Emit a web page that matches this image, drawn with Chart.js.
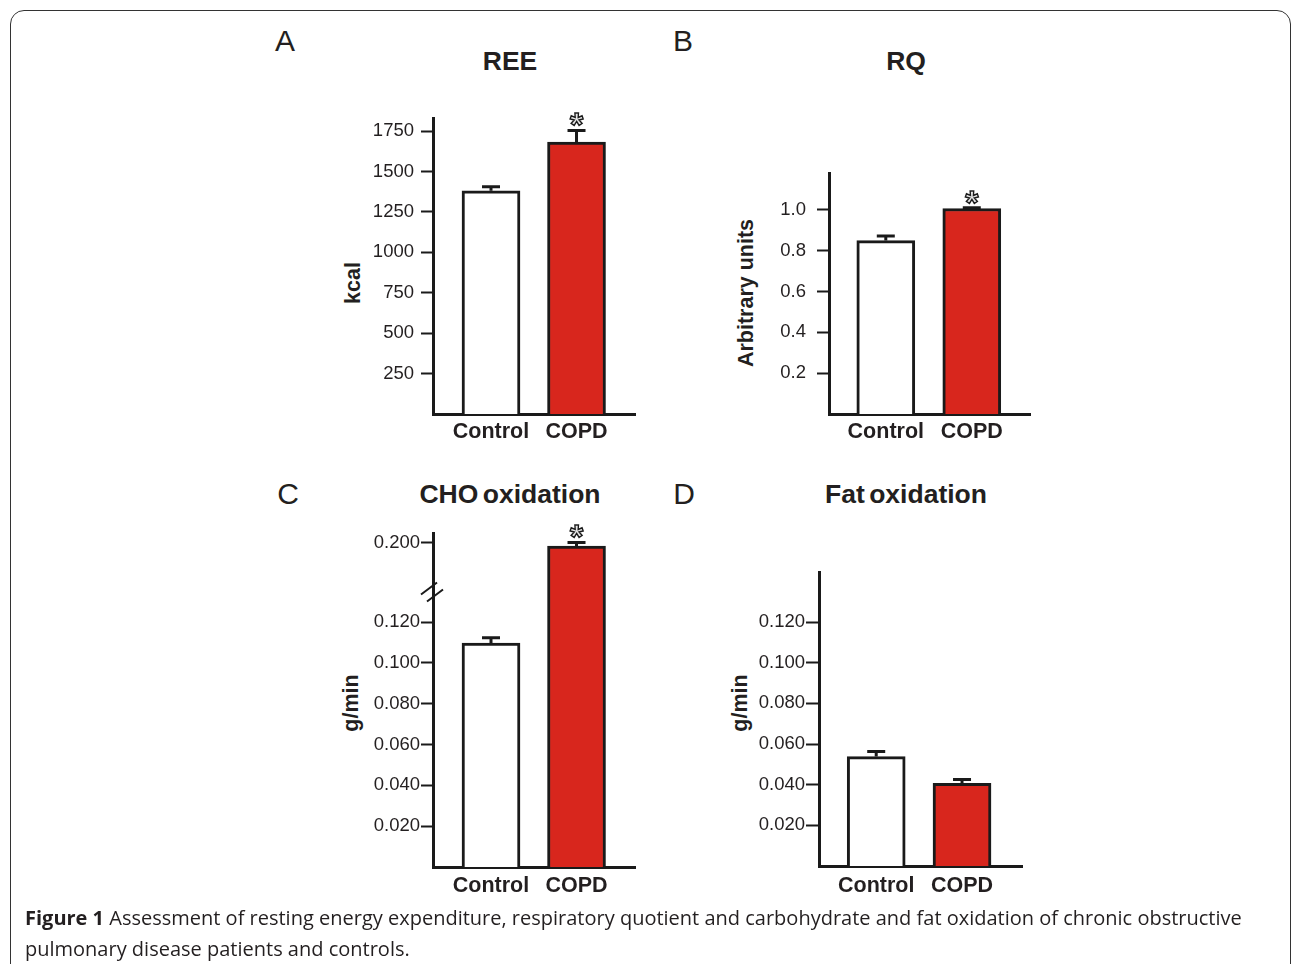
<!DOCTYPE html>
<html><head><meta charset="utf-8">
<script src="https://cdn.jsdelivr.net/npm/chart.js@4.4.0/dist/chart.umd.min.js"></script>
<style>
html,body{margin:0;padding:0;background:#fff;width:1292px;height:964px;overflow:hidden;}
#frame{position:absolute;left:10px;top:10px;width:1281px;height:1000px;border:1.5px solid #333;border-radius:14px;box-sizing:border-box;}
canvas{position:absolute;}
.txt{position:absolute;font-family:"Liberation Sans",Arial,sans-serif;color:#231f20;white-space:nowrap;line-height:1;}
.letter{font-size:30px;transform:translate(-50%,-50%);}
.title{font-size:26.5px;font-weight:bold;transform:translate(-50%,-50%);word-spacing:-3px;}
.ytitle{font-size:21.5px;font-weight:bold;transform:translate(-50%,-50%) rotate(-90deg);}
#caption{position:absolute;left:25px;top:902px;font-family:"Open Sans",sans-serif;font-size:20px;line-height:31px;color:#231f20;white-space:nowrap;}
</style></head>
<body>
<div id="frame"></div>
<div class="txt letter" style="left:285px;top:41px">A</div>
<div class="txt letter" style="left:683px;top:41px">B</div>
<div class="txt letter" style="left:288px;top:494px">C</div>
<div class="txt letter" style="left:684px;top:494px">D</div>
<div class="txt title" style="left:510px;top:61px">REE</div>
<div class="txt title" style="left:906px;top:61px">RQ</div>
<div class="txt title" style="left:510px;top:494px">CHO oxidation</div>
<div class="txt title" style="left:906px;top:494px">Fat oxidation</div>
<div class="txt ytitle" style="left:354px;top:283px">kcal</div>
<div class="txt ytitle" style="left:746.5px;top:293px">Arbitrary units</div>
<div class="txt ytitle" style="left:351.5px;top:703px">g/min</div>
<div class="txt ytitle" style="left:740.5px;top:703px">g/min</div>
<canvas id="cA"></canvas>
<canvas id="cB"></canvas>
<canvas id="cC"></canvas>
<canvas id="cD"></canvas>
<div id="caption"><b>Figure 1</b> Assessment of resting energy expenditure, respiratory quotient and carbohydrate and fat oxidation of chronic obstructive<br>pulmonary disease patients and controls.</div>
<script>
// ---- data ----
const categories = ['Control', 'COPD'];

const reeMeans = [1380, 1682];
const reeErrors = [25, 72];
const reeTicks = [250, 500, 750, 1000, 1250, 1500, 1750];
const reeSignificant = [false, true];

const rqMeans = [0.85, 1.007];
const rqErrors = [0.022, 0.004];
const rqTicks = [0.2, 0.4, 0.6, 0.8, 1.0];
const rqSignificant = [false, true];

const choMeans = [0.1098, 0.1985];
const choErrors = [0.0025, 0.0018];
const choTicks = [0.02, 0.04, 0.06, 0.08, 0.1, 0.12, 0.2];
const choSignificant = [false, true];

const fatMeans = [0.0538, 0.0406];
const fatErrors = [0.0025, 0.002];
const fatTicks = [0.02, 0.04, 0.06, 0.08, 0.1, 0.12];
const fatSignificant = [false, false];

// ---- broken-axis linear scale ----
class BrokenLinearScale extends Chart.LinearScale {
  static id = 'brokenLinear';
  static defaults = {};
  toDisplay(v) {
    const b = this.options.breakAt, g = this.options.breakGap;
    if (b == null || v == null) return v;
    if (v <= b) return v;
    if (v >= b + g) return v - g;
    return b;
  }
  fromDisplay(d) {
    const b = this.options.breakAt, g = this.options.breakGap;
    if (b == null) return d;
    return d <= b ? d : d + g;
  }
  getPixelForValue(v) { return super.getPixelForValue(this.toDisplay(v)); }
  getValueForPixel(p) { return this.fromDisplay(super.getValueForPixel(p)); }
}
Chart.register(BrokenLinearScale);

const INK = '#1a1a1a';
const TXT = '#231f20';
const RED = '#d8261d';

function extrasPlugin(means, errors, sig, brk) {
  return {
    id: 'extras',
    afterDatasetsDraw(chart) {
      const ctx = chart.ctx, ys = chart.scales.y;
      const meta = chart.getDatasetMeta(0);
      ctx.save();
      ctx.strokeStyle = INK; ctx.lineWidth = 3; ctx.lineCap = 'butt';
      meta.data.forEach((bar, i) => {
        const top = ys.getPixelForValue(means[i] + errors[i]);
        ctx.beginPath();
        ctx.moveTo(bar.x, bar.y); ctx.lineTo(bar.x, top);
        ctx.moveTo(bar.x - 9, top); ctx.lineTo(bar.x + 9, top);
        ctx.stroke();
        if (sig[i]) {
          ctx.save();
          ctx.font = 'bold 34px "Liberation Sans"';
          ctx.textAlign = 'center'; ctx.textBaseline = 'alphabetic';
          const cy = top - 13;
          ctx.fillStyle = '#e6e6e6';
          ctx.fillText('*', bar.x, cy + 19);
          ctx.lineWidth = 1.4; ctx.strokeStyle = INK;
          ctx.strokeText('*', bar.x, cy + 19);
          ctx.restore();
        }
      });
      if (brk) {
        const p = ys.getPixelForValue(brk.at);
        const x0 = chart.chartArea.left;
        ctx.lineWidth = 2;
        ctx.beginPath();
        ctx.moveTo(x0 - 12, p + 5); ctx.lineTo(x0 + 4, p - 7);
        ctx.moveTo(x0 - 6, p + 12); ctx.lineTo(x0 + 10, p);
        ctx.stroke();
      }
      ctx.restore();
    }
  };
}

function makePanel(p) {
  const [bl, bt, bw, bh] = p.box;
  const [al, at, ar, ab] = p.area;
  const cv = document.getElementById(p.id);
  cv.width = bw; cv.height = bh;
  cv.style.left = bl + 'px'; cv.style.top = bt + 'px';
  const yOpts = {
    type: p.brk ? 'brokenLinear' : 'linear',
    min: 0, max: p.yMax, z: 1,
    afterFit: s => { s.width = al - bl; },
    afterBuildTicks: s => { s.ticks = p.ticks.map(v => ({ value: v })); },
    grid: { display: true, drawOnChartArea: false, drawTicks: true, tickLength: p.tickLen, tickWidth: 2, tickColor: INK },
    border: { display: true, width: 3, color: INK },
    ticks: { autoSkip: false, padding: p.tickPad, color: TXT,
      font: { family: 'Liberation Sans', size: 18.5 },
      callback: v => Number(v).toFixed(p.dec) }
  };
  if (p.brk) { yOpts.breakAt = p.brk.at; yOpts.breakGap = p.brk.gap; }
  return new Chart(cv, {
    type: 'bar',
    data: {
      datasets: [{
        data: categories.map((c, i) => ({ x: i + 1, y: p.means[i] })),
        backgroundColor: ['#ffffff', RED],
        borderColor: INK, borderWidth: 3, borderSkipped: 'start',
        barThickness: 58
      }]
    },
    options: {
      responsive: false, animation: false, devicePixelRatio: 1, events: [],
      layout: { padding: { left: 0, top: at - bt, right: bl + bw - ar, bottom: 0 } },
      plugins: { legend: { display: false }, tooltip: { enabled: false }, title: { display: false } },
      scales: {
        x: {
          type: 'linear', min: p.x[0], max: p.x[1], offset: false, z: 1,
          afterFit: s => { s.height = bt + bh - ab; },
          afterBuildTicks: s => { s.ticks = categories.map((c, i) => ({ value: i + 1 })); },
          grid: { display: false, drawTicks: false, offset: false },
          border: { display: true, width: 3, color: INK },
          ticks: { autoSkip: false, maxRotation: 0, padding: p.xPad, color: TXT,
            font: { family: 'Liberation Sans', size: 21.5, weight: 'bold' },
            callback: v => categories[Math.round(v) - 1] }
        },
        y: yOpts
      }
    },
    plugins: [extrasPlugin(p.means, p.errors, p.sig, p.brk)]
  });
}

makePanel({ id: 'cA', box: [330, 100, 320, 350], area: [433, 116, 635, 414], x: [0.3216, 2.684], yMax: 1830,
  means: reeMeans, errors: reeErrors, ticks: reeTicks, sig: reeSignificant, dec: 0, tickLen: 12, tickPad: 7, xPad: 5 });
makePanel({ id: 'cB', box: [720, 150, 330, 300], area: [829, 173, 1030, 414], x: [0.3395, 2.677], yMax: 1.181,
  means: rqMeans, errors: rqErrors, ticks: rqTicks, sig: rqSignificant, dec: 1, tickLen: 12, tickPad: 11, xPad: 5 });
makePanel({ id: 'cC', box: [330, 515, 320, 400], area: [433, 533, 635, 867], x: [0.3216, 2.684], yMax: 0.1637,
  brk: { at: 0.136, gap: 0.0412 },
  means: choMeans, errors: choErrors, ticks: choTicks, sig: choSignificant, dec: 3, tickLen: 12, tickPad: 1, xPad: 6 });
makePanel({ id: 'cD', box: [720, 550, 330, 360], area: [819, 572, 1022, 866], x: [0.3333, 2.699], yMax: 0.1446,
  means: fatMeans, errors: fatErrors, ticks: fatTicks, sig: fatSignificant, dec: 3, tickLen: 13, tickPad: 1, xPad: 7 });
</script>
</body></html>
